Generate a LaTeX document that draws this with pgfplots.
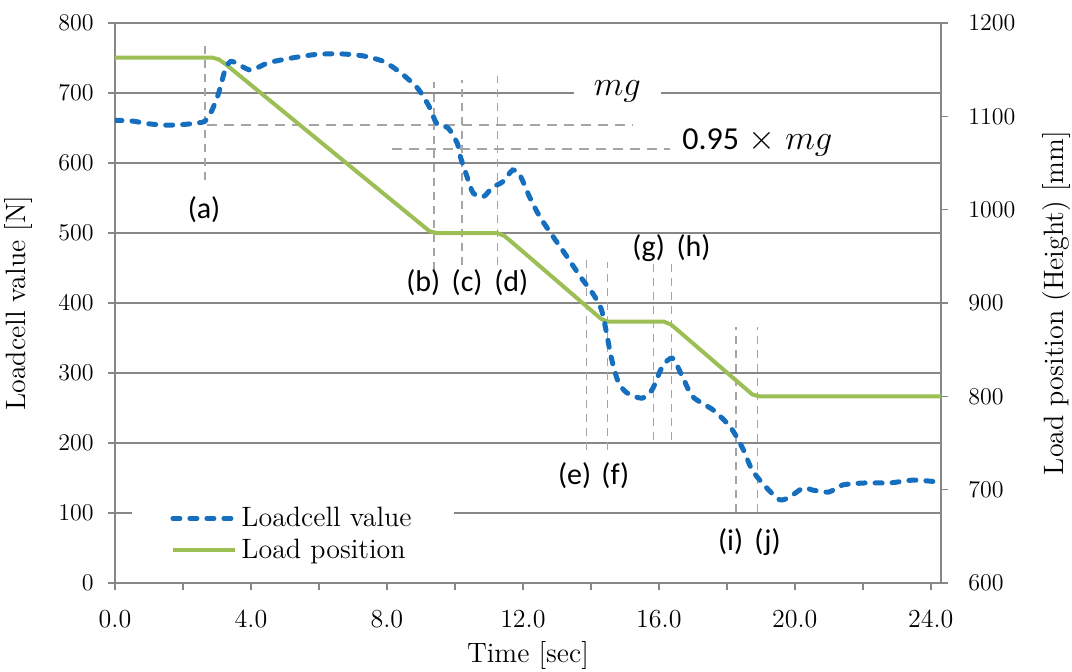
\documentclass[border=0pt]{standalone}
\usepackage{fontspec}
\usepackage{pgfplots}
\pgfplotsset{compat=1.18}
\newfontfamily\carlito{Carlito}

\definecolor{cellblue}{RGB}{22,110,190}
\definecolor{posgreen}{RGB}{155,190,85}
\definecolor{gridgray}{RGB}{135,135,135}
\definecolor{markgray}{RGB}{165,165,165}

\pgfplotsset{
  base/.style={
    scale only axis, width=413pt, height=280pt,
    xmin=0, xmax=24.3,
    axis line style={gridgray, line width=0.8pt},
    tick style={gridgray, line width=0.8pt},
    tick align=outside,
    major tick length=3.5pt,
    tick label style={font=\fontsize{13}{15}\selectfont},
    label style={font=\fontsize{14}{16}\selectfont},
    /pgf/number format/set thousands separator={},
  },
  marker/.style={markgray, line width=0.9pt, dash pattern=on 4pt off 3pt, forget plot},
  level/.style={markgray, line width=1pt, dash pattern=on 5pt off 3.5pt, forget plot},
}
\newcommand{\evt}[1]{{\carlito\fontsize{15}{17}\selectfont #1}}

\begin{document}
\begin{tikzpicture}
% left axis: frame, grid, reference lines and event labels
\begin{axis}[base,
  ymin=0, ymax=800, ytick={0,100,...,800},
  ymajorgrids, grid style={gridgray, line width=0.8pt},
  axis y line*=left, axis x line*=bottom,
  xtick={0,2,...,24},
  xticklabels={0.0,,4.0,,8.0,,12.0,,16.0,,20.0,,24.0},
  xticklabel style={yshift=-6.5pt},
  yticklabel style={xshift=-3.7pt},
  ylabel={Loadcell value [N]}, xlabel={Time [sec]},
  ylabel style={at={(axis description cs:-0.1174,0.5)}, anchor=center},
  xlabel style={at={(axis description cs:0.5,-0.13)}, anchor=center},
]
% mg and 0.95 mg levels
\addplot[level] coordinates {(2.71,654) (15.25,654)};
\addplot[level] coordinates {(8.16,620) (16.34,620)};
% event markers
\addplot[marker] coordinates {(2.65,576) (2.65,769)};
\addplot[marker] coordinates {(9.39,447) (9.39,716)};
\addplot[marker] coordinates {(10.22,454) (10.22,719)};
\addplot[marker] coordinates {(11.25,454) (11.25,724)};
\addplot[marker] coordinates {(13.87,190) (13.87,464)};
\addplot[marker] coordinates {(14.49,190) (14.49,459)};
\addplot[marker] coordinates {(15.84,204) (15.84,459)};
\addplot[marker] coordinates {(16.37,204) (16.37,459)};
\addplot[marker] coordinates {(18.26,101) (18.26,366)};
\addplot[marker] coordinates {(18.90,101) (18.90,366)};
\node at (axis cs:2.62,533) {\evt{(a)}};
\node at (axis cs:9.07,429) {\evt{(b)}};
\node at (axis cs:10.36,429) {\evt{(c)}};
\node at (axis cs:11.66,429) {\evt{(d)}};
\node at (axis cs:13.52,154) {\evt{(e)}};
\node at (axis cs:14.72,154) {\evt{(f)}};
\node at (axis cs:15.70,479) {\evt{(g)}};
\node at (axis cs:17.02,479) {\evt{(h)}};
\node at (axis cs:18.11,59) {\evt{(i)}};
\node at (axis cs:19.20,59) {\evt{(j)}};
\node[fill=white, inner xsep=10pt, inner ysep=1pt, font=\fontsize{16}{18}\selectfont]
  at (axis cs:14.78,702) {$mg$};
\node[font=\fontsize{16}{18}\selectfont, fill=white, inner sep=1pt]
  at (axis cs:18.9,629) {{\carlito 0.95} $\times$ $mg$};
\end{axis}

% right axis: load position
\begin{axis}[base,
  ymin=600, ymax=1200, ytick={600,700,...,1200},
  axis y line*=right, axis x line=none,
  yticklabel style={xshift=6.7pt},
  ylabel={Load position (Height) [mm]},
  ylabel style={at={(axis description cs:1.1404,0.5)}, anchor=center},
]
\addplot[posgreen, line width=2pt, line join=round] coordinates {
  (0,1163) (2.85,1163) (3.05,1161) (3.25,1156)
  (9.25,977) (9.45,975) (11.24,975) (11.45,972) (11.65,966)
  (14.3,883) (14.5,880) (16.15,880) (16.35,877) (16.55,871)
  (18.75,802) (18.95,800) (24.3,800)
};
\end{axis}

% loadcell trace and legend on top
\begin{axis}[base,
  ymin=0, ymax=800, hide axis,
  legend style={at={(axis description cs:0.0206,0.024)}, anchor=south west,
    fill=white, draw=none, inner xsep=19pt, inner ysep=2pt,
    font=\fontsize{14}{16}\selectfont, row sep=0.5pt,
    /tikz/every even column/.append style={column sep=4pt}},
  legend cell align=left,
  legend image code/.code={\draw[#1] (0pt,0pt) -- (31pt,0pt);},
]
\addplot[cellblue, line width=2.5pt, line cap=round, dash pattern=on 3.5pt off 5pt,
  smooth, tension=0.45] coordinates {
  (0,661) (0.5,660) (1.0,656) (1.5,654) (2.0,655) (2.4,657) (2.65,660)
  (2.85,675) (3.05,700) (3.25,735) (3.4,745) (3.6,742) (3.85,735) (4.05,733)
  (4.5,743) (5.2,750) (5.9,755) (6.6,756) (7.3,753) (7.9,745) (8.4,729)
  (8.9,707) (9.25,680) (9.47,656) (9.8,650) (10.07,628) (10.16,609)
  (10.36,580) (10.54,557) (10.84,552) (11.1,565) (11.4,573) (11.7,590)
  (11.9,584) (12.2,551) (12.5,523) (12.9,494) (13.3,466) (13.7,437)
  (14.05,414) (14.3,392) (14.45,360) (14.6,322) (14.8,288) (15.05,272)
  (15.5,264) (15.8,276) (16.1,309) (16.4,321) (16.7,294) (17.0,266)
  (17.6,247) (18.1,223) (18.45,194) (18.75,161) (19.15,137) (19.55,119)
  (19.85,123) (20.25,136) (20.5,133) (21.0,130) (21.4,140) (22.1,143)
  (22.8,143) (23.5,147) (24.3,144)
};
\addlegendentry{Loadcell value}
\addlegendimage{posgreen, line width=2pt}
\addlegendentry{Load position}
\end{axis}

\pgfresetboundingbox
\path[use as bounding box] (-57.5pt,-44pt) rectangle (478.5pt,291.5pt);
\end{tikzpicture}
\end{document}
